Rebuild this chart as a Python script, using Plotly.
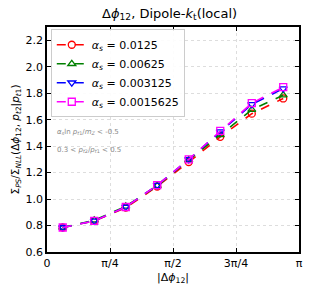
import plotly.graph_objects as go

x_vals = [0.196, 0.589, 0.982, 1.374, 1.767, 2.160, 2.553, 2.945]
series_values = ["0.0125", "0.00625", "0.003125", "0.0015625"]
y_0125 = [0.785, 0.835, 0.935, 1.095, 1.280, 1.470, 1.645, 1.760]
y_00625 = [0.785, 0.840, 0.945, 1.100, 1.295, 1.485, 1.675, 1.785]
y_003125 = [0.785, 0.835, 0.940, 1.105, 1.300, 1.510, 1.715, 1.835]
y_0015625 = [0.785, 0.835, 0.940, 1.105, 1.300, 1.515, 1.725, 1.845]
x_tickvals = [0, 0.7853981634, 1.5707963268, 2.3561944902, 3.1415926536]
x_ticktext = ["0", "π/4", "π/2", "3π/4", "π"]
y_tickvals = [0.6, 0.8, 1.0, 1.2, 1.4, 1.6, 1.8, 2.0, 2.2]

colors = ["#ff0000", "#008000", "#0000ff", "#ff00ff"]
symbols = ["circle-open", "triangle-up-open", "triangle-down-open", "square-open"]
all_y = [y_0125, y_00625, y_003125, y_0015625]

fig = go.Figure()
for val, ys, c, s in zip(series_values, all_y, colors, symbols):
    fig.add_trace(go.Scatter(
        x=x_vals, y=ys, mode="lines+markers",
        name="<i>α<sub>s</sub></i> = " + val,
        line=dict(color=c, width=1.6, dash="dash"),
        marker=dict(symbol=s, size=7, color=c, line=dict(color=c, width=1.3)),
    ))

axis_common = dict(
    showline=True, linecolor="black", linewidth=1.5, mirror="allticks",
    ticks="inside", ticklen=4, tickcolor="black", tickwidth=1,
    showgrid=True, gridcolor="#dddddd", griddash="dot", gridwidth=1,
    zeroline=False, tickfont=dict(size=11, color="black"), automargin=False,
)

fig.update_layout(
    width=317, height=291,
    margin=dict(l=47, r=18, t=27, b=39),
    paper_bgcolor="white", plot_bgcolor="white",
    font=dict(family="DejaVu Sans", color="black"),
    title=dict(text="Δ<i>ϕ</i><sub>12</sub>, Dipole-<i>k</i><sub>t</sub>(local)",
               x=0.535, xanchor="center", y=0.955, yanchor="middle",
               font=dict(size=13)),
    xaxis=dict(range=[0, 3.1415926536], tickvals=x_tickvals, ticktext=x_ticktext,
               title=dict(text="|Δ<i>ϕ</i><sub>12</sub>|", font=dict(size=11), standoff=4),
               **axis_common),
    yaxis=dict(range=[0.6, 2.3], tickvals=y_tickvals, tickformat=".1f",
               title=dict(text="Σ<sub><i>PS</i></sub>/Σ<sub><i>NLL</i></sub>(Δ<i>ϕ</i><sub>12</sub>, <i>p</i><sub><i>t</i>2</sub>|<i>p</i><sub><i>t</i>1</sub>)",
                          font=dict(size=10.5), standoff=4),
               **axis_common),
    legend=dict(x=0.015, y=0.99, xanchor="left", yanchor="top",
                bgcolor="rgba(255,255,255,0.9)", bordercolor="#cccccc", borderwidth=1,
                font=dict(size=11), tracegroupgap=0, itemwidth=30),
    showlegend=True,
)

fig.add_annotation(xref="paper", yref="paper", x=0.03, y=0.535, xanchor="left", yanchor="middle",
                   text="<i>α<sub>s</sub></i>ln <i>p</i><sub><i>t</i>1</sub>/<i>m<sub>Z</sub></i> < -0.5",
                   showarrow=False, font=dict(size=7, color="#888888"))
fig.add_annotation(xref="paper", yref="paper", x=0.03, y=0.455, xanchor="left", yanchor="middle",
                   text="0.3 < <i>p</i><sub><i>t</i>2</sub>/<i>p</i><sub><i>t</i>1</sub> < 0.5",
                   showarrow=False, font=dict(size=7, color="#888888"))

fig.write_html("out.html", config={"displayModeBar": False},
               post_script="document.body.style.margin='0px';document.body.style.padding='0px';document.body.style.overflow='hidden';")
